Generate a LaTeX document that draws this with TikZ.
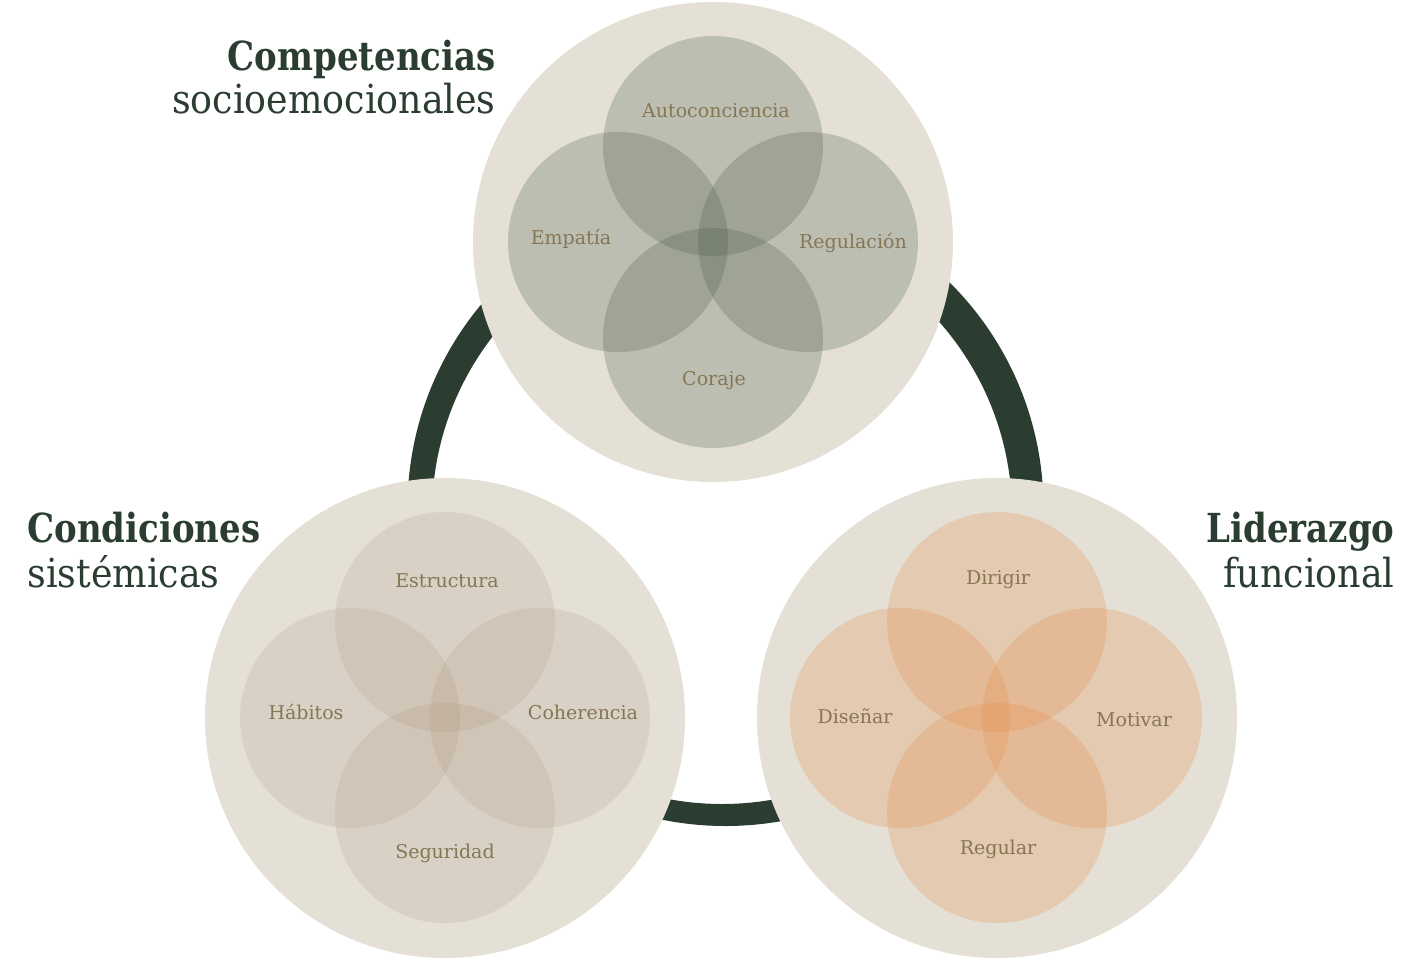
\documentclass[tikz,border=0pt]{standalone}
\usepackage{fontspec}
\setmainfont{DejaVu Serif}
\newfontfamily\titleboldfont[FakeStretch=0.85]{DejaVu Serif Bold}
\newfontfamily\titleregfont[FakeStretch=0.91]{DejaVu Serif}
\definecolor{ringgreen}{RGB}{42,61,48}
\definecolor{bigbg}{RGB}{228,224,214}
\definecolor{labelc}{RGB}{134,118,84}
\definecolor{topc}{RGB}{74,90,72}
\definecolor{leftc}{RGB}{160,130,100}
\definecolor{rightc}{RGB}{230,140,70}
\tikzset{
  bigcirc/.style={circle, fill=bigbg, minimum size=240pt, inner sep=0pt},
  smallcirc/.style={circle, minimum size=110pt, inner sep=0pt, fill opacity=#1},
  topsmall/.style={smallcirc=0.25, fill=topc},
  leftsmall/.style={smallcirc=0.15, fill=leftc},
  rightsmall/.style={smallcirc=0.25, fill=rightc},
  lab/.style={text=labelc, font=\fontsize{9.5}{11}\selectfont, inner sep=0pt},
  titlebold/.style={text=ringgreen, font=\fontsize{20}{24}\titleboldfont, inner sep=0pt},
  titlereg/.style={text=ringgreen, font=\fontsize{20}{24}\titleregfont, inner sep=0pt},
}
\begin{document}
\begin{tikzpicture}[x=0.5pt,y=-0.5pt]
\useasboundingbox (0,0) rectangle (1421,960);
% ring
\fill[ringgreen, even odd rule] (725.5,508) circle[radius=159pt] (722,514) circle[radius=145pt];
% big circles
\node[bigcirc] (top) at (713,242) {};
\node[bigcirc] (left) at (445,718) {};
\node[bigcirc] (right) at (997,718) {};
% top small circles
\node[topsmall] (t1) at (713,146) {};
\node[topsmall] (t2) at (618,242) {};
\node[topsmall] (t3) at (808,242) {};
\node[topsmall] (t4) at (713,338) {};
% left small circles
\node[leftsmall] (l1) at (445,622) {};
\node[leftsmall] (l2) at (350,718) {};
\node[leftsmall] (l3) at (540,718) {};
\node[leftsmall] (l4) at (445,813) {};
% right small circles
\node[rightsmall] (r1) at (997,622) {};
\node[rightsmall] (r2) at (900,718) {};
\node[rightsmall] (r3) at (1092,718) {};
\node[rightsmall] (r4) at (997,813) {};
% labels
\node[lab] (a1) at (716,111) {Autoconciencia};
\node[lab] (a2) at (571,239) {Empatía};
\node[lab] (a3) at (853,243) {Regulación};
\node[lab] (a4) at (714,381) {Coraje};
\node[lab] (b1) at (447,581) {Estructura};
\node[lab] (b2) at (306,712) {Hábitos};
\node[lab] (b3) at (583,712) {Coherencia};
\node[lab] (b4) at (445,853) {Seguridad};
\node[lab] (c1) at (998,580) {Dirigir};
\node[lab] (c2) at (855,716) {Diseñar};
\node[lab] (c3) at (1134,720) {Motivar};
\node[lab] (c4) at (998,849) {Regular};
% titles
\node[titlebold, anchor=base east] (T1) at (496,70) {Competencias};
\node[titlereg, anchor=base east] (T1b) at (496,113) {socioemocionales};
\node[titlebold, anchor=base west] (T2) at (27,542) {Condiciones};
\node[titlereg, anchor=base west] (T2b) at (27,587) {sistémicas};
\node[titlebold, anchor=base east] (T3) at (1395,542) {Liderazgo};
\node[titlereg, anchor=base east] (T3b) at (1395,587) {funcional};
\end{tikzpicture}
\end{document}
